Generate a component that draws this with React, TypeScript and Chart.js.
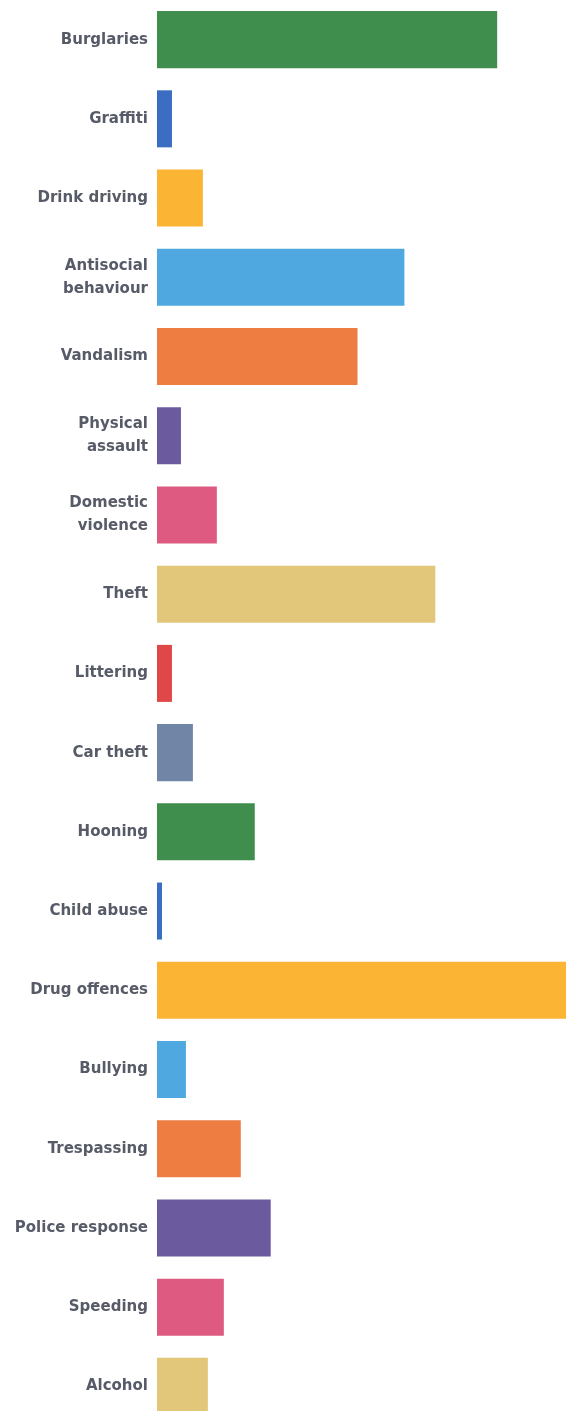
import React, { useEffect, useRef } from "react";
import { Chart, registerables } from "chart.js";

Chart.register(...registerables);

const categories: (string | string[])[] = [
  "Burglaries",
  "Graffiti",
  "Drink driving",
  ["Antisocial", "behaviour"],
  "Vandalism",
  ["Physical", "assault"],
  ["Domestic", "violence"],
  "Theft",
  "Littering",
  "Car theft",
  "Hooning",
  "Child abuse",
  "Drug offences",
  "Bullying",
  "Trespassing",
  "Police response",
  "Speeding",
  "Alcohol",
];

const values: number[] = [341, 15, 46, 248, 201, 24, 60, 279, 15, 36, 98, 5, 420, 29, 84, 114, 67, 51];

const colors: string[] = [
  "#3f8e4e",
  "#3b6ec2",
  "#fbb434",
  "#4fa8e0",
  "#ee7d42",
  "#6c5a9e",
  "#de5a80",
  "#e2c67a",
  "#e04848",
  "#7185a6",
  "#3f8e4e",
  "#3b6ec2",
  "#fbb434",
  "#4fa8e0",
  "#ee7d42",
  "#6c5a9e",
  "#de5a80",
  "#e2c67a",
];

export default function App() {
  const ref = useRef<HTMLCanvasElement | null>(null);
  useEffect(() => {
    if (!ref.current) return;
    const chart = new Chart(ref.current, {
      type: "bar",
      data: {
        labels: categories,
        datasets: [
          {
            data: values,
            backgroundColor: colors,
            borderWidth: 0,
            barPercentage: 0.72,
            categoryPercentage: 1,
          },
        ],
      },
      options: {
        indexAxis: "y",
        animation: false,
        responsive: true,
        maintainAspectRatio: false,
        layout: { padding: 0 },
        plugins: { legend: { display: false }, tooltip: { enabled: false } },
        scales: {
          x: { display: false, min: 0, max: 410 },
          y: {
            afterFit: (scale: any) => {
              scale.width = 157;
              scale.paddingTop = 0;
              scale.paddingBottom = 0;
            },
            grid: { display: false, drawTicks: false },
            border: { display: false },
            ticks: {
              padding: 9,
              color: "#575b68",
              font: { family: "'DejaVu Sans', sans-serif", size: 15, weight: "bold", lineHeight: 1.55 },
            },
          },
        },
      },
    });
    return () => chart.destroy();
  }, []);
  return (
    <div style={{ position: "fixed", top: 0, left: 0, width: 566, height: 1411, overflow: "hidden", background: "#fff" }}>
      <div style={{ position: "absolute", top: 0, left: 0, width: 566, height: 1426 }}>
        <canvas ref={ref} />
      </div>
    </div>
  );
}
